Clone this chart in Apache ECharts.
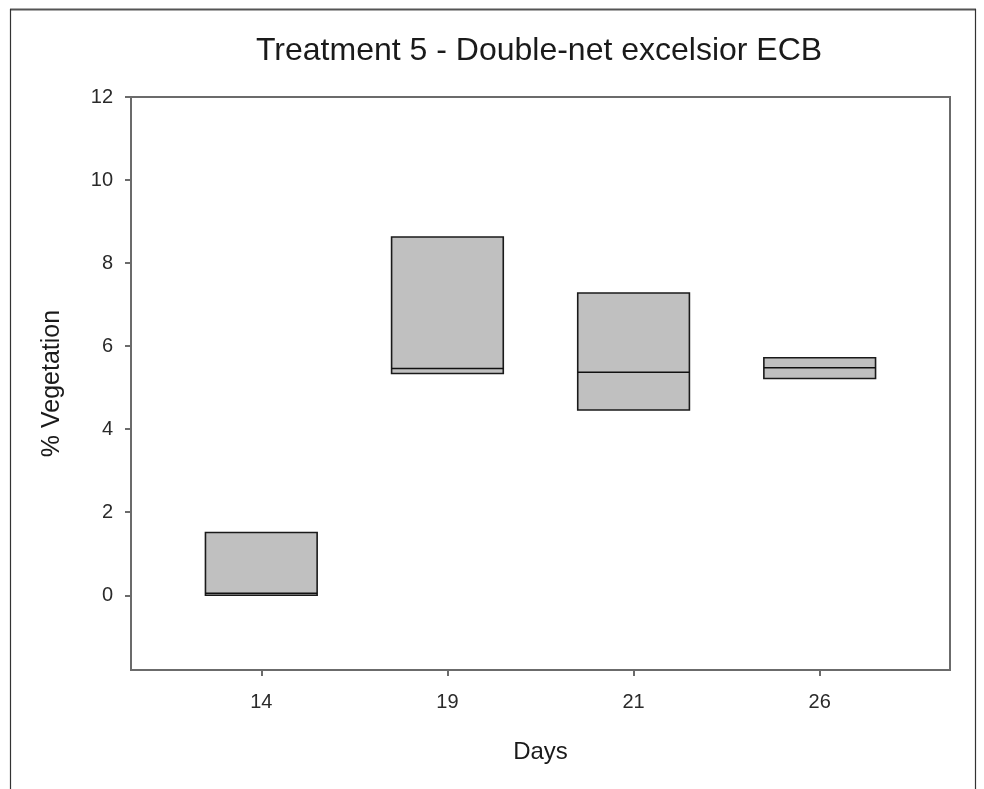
<!DOCTYPE html>
<html>
<head>
<meta charset="utf-8">
<title>Treatment 5 - Double-net excelsior ECB</title>
<script src="https://cdn.jsdelivr.net/npm/echarts@6/dist/echarts.min.js"></script>
<style>
  html, body { margin: 0; padding: 0; background: #ffffff; }
  #chart { width: 984px; height: 789px; }
</style>
</head>
<body>
<div id="chart"></div>
<script>
// Sampling days (one box per day)
const days = ['14', '19', '21', '26'];
// Box statistics for % vegetation
const q1Values = [0.00, 5.34, 4.46, 5.22];
const medianValues = [0.05, 5.46, 5.37, 5.48];
const q3Values = [1.51, 8.63, 7.28, 5.72];
// Y axis tick labels
const yTicks = [0, 2, 4, 6, 8, 10, 12];

const positions = days.map((d, i) => i + 1);
const boxData = days.map((d, i) => [positions[i], q1Values[i], medianValues[i], q3Values[i]]);

const FONT = 'Liberation Sans, Arial, sans-serif';
const AXIS_COLOR = '#6b6b6b';

const chart = echarts.init(document.getElementById('chart'), null, { renderer: 'canvas' });

chart.setOption({
  backgroundColor: '#ffffff',
  animation: false,
  title: {
    text: 'Treatment 5 - Double-net excelsior ECB',
    left: 251,
    top: 30,
    textStyle: { fontFamily: FONT, fontSize: 32, fontWeight: 'normal', color: '#1a1a1a' }
  },
  grid: {
    left: 131, right: 34, top: 97, bottom: 119,
    show: true,
    borderColor: AXIS_COLOR,
    borderWidth: 2,
    backgroundColor: 'transparent'
  },
  xAxis: {
    type: 'value',
    min: 0.3,
    max: 4.7,
    name: 'Days',
    nameLocation: 'middle',
    nameGap: 70,
    nameTextStyle: { fontFamily: FONT, fontSize: 24, color: '#1a1a1a' },
    axisLine: { show: true, onZero: false, lineStyle: { color: AXIS_COLOR, width: 2 } },
    axisTick: { show: true, length: 6, customValues: positions, lineStyle: { color: AXIS_COLOR, width: 2 } },
    axisLabel: {
      customValues: positions,
      margin: 22,
      fontFamily: FONT, fontSize: 20, color: '#2a2a2a',
      formatter: v => days[Math.round(v) - 1] || ''
    },
    splitLine: { show: false }
  },
  yAxis: {
    type: 'value',
    min: -1.8,
    max: 12,
    name: '% Vegetation',
    nameLocation: 'middle',
    nameRotate: 90,
    nameGap: 66,
    nameTextStyle: { fontFamily: FONT, fontSize: 25, color: '#1a1a1a' },
    axisLine: { show: true, onZero: false, lineStyle: { color: AXIS_COLOR, width: 2 } },
    axisTick: { show: true, length: 6, customValues: yTicks, lineStyle: { color: AXIS_COLOR, width: 2 } },
    axisLabel: {
      customValues: yTicks,
      margin: 18,
      fontFamily: FONT, fontSize: 20, color: '#2a2a2a'
    },
    splitLine: { show: false }
  },
  graphic: [
    { type: 'line', shape: { x1: 10, y1: 9.5, x2: 976, y2: 9.5 }, style: { stroke: '#555', lineWidth: 2 }, silent: true },
    { type: 'line', shape: { x1: 10.5, y1: 9, x2: 10.5, y2: 789 }, style: { stroke: '#333', lineWidth: 1.2 }, silent: true },
    { type: 'line', shape: { x1: 975.5, y1: 9, x2: 975.5, y2: 789 }, style: { stroke: '#333', lineWidth: 1.2 }, silent: true }
  ],
  series: [{
    type: 'custom',
    data: boxData,
    encode: { x: 0, y: [1, 2, 3] },
    renderItem: function (params, api) {
      const x = api.value(0);
      const lo = api.coord([x, api.value(1)]);
      const md = api.coord([x, api.value(2)]);
      const hi = api.coord([x, api.value(3)]);
      const w = api.size([0.6, 0])[0];
      const left = lo[0] - w / 2;
      return {
        type: 'group',
        children: [
          {
            type: 'rect',
            shape: { x: left, y: hi[1], width: w, height: lo[1] - hi[1] },
            style: { fill: '#c0c0c0', stroke: '#1a1a1a', lineWidth: 1.6 }
          },
          {
            type: 'line',
            shape: { x1: left, y1: md[1], x2: left + w, y2: md[1] },
            style: { stroke: '#111111', lineWidth: 1.6 }
          }
        ]
      };
    }
  }]
});
</script>
</body>
</html>
